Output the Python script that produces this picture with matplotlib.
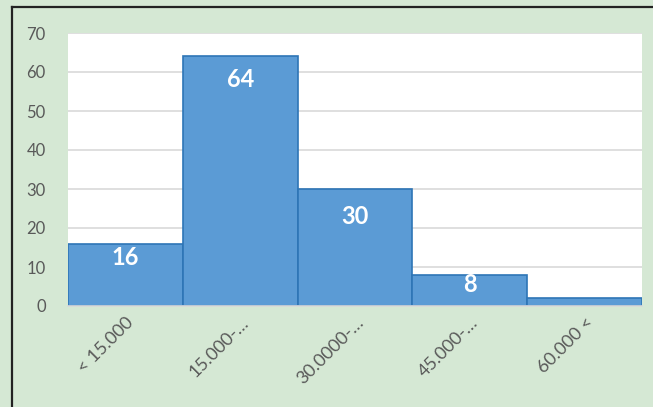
import numpy as np
import matplotlib.pyplot as plt
from matplotlib.lines import Line2D
from matplotlib.transforms import ScaledTranslation

# data
categories = ['< 15.000', '15.000-…', '30.0000-…', '45.000-…', '60.000 <']
counts = [16, 64, 30, 8, 2]
shown = [True, True, True, True, False]  # the last bar has no label
label_drop = [14, 23, 27, 10, 0]  # px below the bar top

bg = '#d5e8d4'
fig = plt.figure(figsize=(6.53, 4.07), dpi=100, facecolor=bg)
ax = fig.add_axes([68 / 653, 1 - 306 / 407, 574 / 653, 273 / 407])
ax.set_facecolor('white')

x = np.arange(len(counts))
ax.bar(x, counts, width=1.0, color='#5b9bd5', edgecolor='#2e75b6', linewidth=1.2, zorder=3)

ax.set_xlim(-0.5, len(counts) - 0.5)
ax.set_ylim(0, 70)
ax.set_yticks(range(0, 71, 10))
ax.grid(axis='y', color='#d9d9d9', linewidth=1.2, zorder=0)
for s in ['top', 'right', 'left']:
    ax.spines[s].set_visible(False)
ax.spines['bottom'].set_color('#d9d9d9')
ax.spines['bottom'].set_linewidth(1.2)
ax.spines['bottom'].set_zorder(4)
ax.tick_params(length=0, labelsize=12, labelcolor='#595959')
for t in ax.get_yticklabels():
    t.set_fontfamily('Lato')
ax.tick_params(axis='y', pad=16)

ax.set_xticks(x)
ax.set_xticklabels(categories, rotation=45, ha='right', va='center',
                   rotation_mode='anchor', family='Lato', fontsize=13)
ax.tick_params(axis='x', pad=10)
shift = ScaledTranslation(6 / 100, 0, fig.dpi_scale_trans)
for t in ax.get_xticklabels():
    t.set_transform(t.get_transform() + shift)

for xi, v, s, d in zip(x, counts, shown, label_drop):
    if not s:
        continue
    ax.annotate(str(v), (xi, v), xytext=(0, -d * 0.72), textcoords='offset points',
                ha='center', va='center', color='white', fontsize=17,
                fontweight='bold', family='Lato', zorder=5)

# border of the chart box
fig.add_artist(Line2D([12 / 653, 12 / 653], [0, 1 - 7 / 407], color='#222222', lw=1.6))
fig.add_artist(Line2D([12 / 653, 1], [1 - 7 / 407, 1 - 7 / 407], color='#222222', lw=1.6))

fig.savefig('out.png', dpi=100, facecolor=bg)
